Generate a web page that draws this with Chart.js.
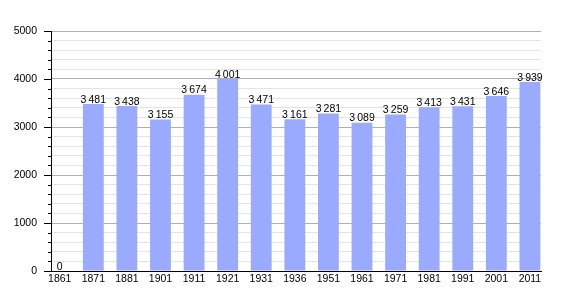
<!DOCTYPE html>
<html>
<head>
<meta charset="utf-8">
<script src="https://cdn.jsdelivr.net/npm/chart.js@4"></script>
<style>
  html, body { margin: 0; padding: 0; background: #fff; }
  #wrap { width: 570px; height: 300px; }
</style>
</head>
<body>
<div id="wrap"><canvas id="myChart"></canvas></div>
<script>
// 연도별 인구
const years = ['1861','1871','1881','1901','1911','1921','1931','1936','1951','1961','1971','1981','1991','2001','2011'];
const population = [0, 3481, 3438, 3155, 3674, 4001, 3471, 3161, 3281, 3089, 3259, 3413, 3431, 3646, 3939];
const yMax = 5000;
const yStep = 200;
const FONT = '"Liberation Sans", Arial, sans-serif';

// 3481 -> "3 481"
function fmt(v){
  return String(v).replace(/\B(?=(\d{3})+(?!\d))/g, '\u202f');
}

// 막대 위 값 표시 + 왼쪽 눈금
const extras = {
  id: 'extras',
  afterDatasetsDraw(chart){
    const c = chart.ctx;
    const meta = chart.getDatasetMeta(0);
    c.save();
    c.fillStyle = '#000';
    c.font = '10.5px ' + FONT;
    c.textAlign = 'center';
    c.textBaseline = 'bottom';
    meta.data.forEach((bar, i) => {
      c.fillText(fmt(population[i]), bar.x, bar.y + 1);
    });
    // y 눈금선
    const ys = chart.scales.y;
    const left = chart.chartArea.left;
    c.strokeStyle = '#000';
    c.lineWidth = 1;
    for (let v = 0; v <= yMax; v += yStep) {
      const py = Math.round(ys.getPixelForValue(v)) + 0.5;
      const len = v % 1000 === 0 ? 7 : 3;
      c.beginPath();
      c.moveTo(left - len, py);
      c.lineTo(left, py);
      c.stroke();
    }
    c.restore();
  }
};

const ctx = document.getElementById('myChart');
new Chart(ctx, {
  type: 'bar',
  data: {
    datasets: [{
      data: population.map((v, i) => ({ x: i, y: v })),
      backgroundColor: '#99aaff',
      borderWidth: 0,
      categoryPercentage: 1,
      barPercentage: 0.62
    }]
  },
  options: {
    responsive: true,
    maintainAspectRatio: false,
    animation: false,
    layout: { padding: { top: 31, right: 29, left: 0, bottom: 0 } },
    plugins: { legend: { display: false }, tooltip: { enabled: false } },
    scales: {
      x: {
        type: 'linear',
        bounds: 'data',
        offset: false,
        min: -0.26,
        max: 14.33,
        afterBuildTicks(scale){ scale.ticks = years.map((_, i) => ({ value: i })); },
        afterFit(scale){ scale.height = 29; },
        grid: { display: false, drawTicks: false },
        border: { color: '#000', width: 1 },
        ticks: {
          autoSkip: false,
          maxRotation: 0,
          padding: 2,
          color: '#000',
          font: { size: 10.5, family: FONT },
          callback: (v) => years[v] ?? ''
        }
      },
      y: {
        min: 0,
        max: yMax,
        afterFit(scale){ scale.width = 51; },
        grid: {
          drawTicks: false,
          color: (c) => (c.tick && c.tick.value % 1000 === 0) ? '#b0b0b0' : '#e4e4e4'
        },
        border: { color: '#000', width: 1 },
        ticks: {
          stepSize: yStep,
          autoSkip: false,
          padding: 14,
          color: '#000',
          font: { size: 10.5, family: FONT },
          callback: (v) => v % 1000 === 0 ? v : ''
        }
      }
    }
  },
  plugins: [extras]
});
</script>
</body>
</html>
